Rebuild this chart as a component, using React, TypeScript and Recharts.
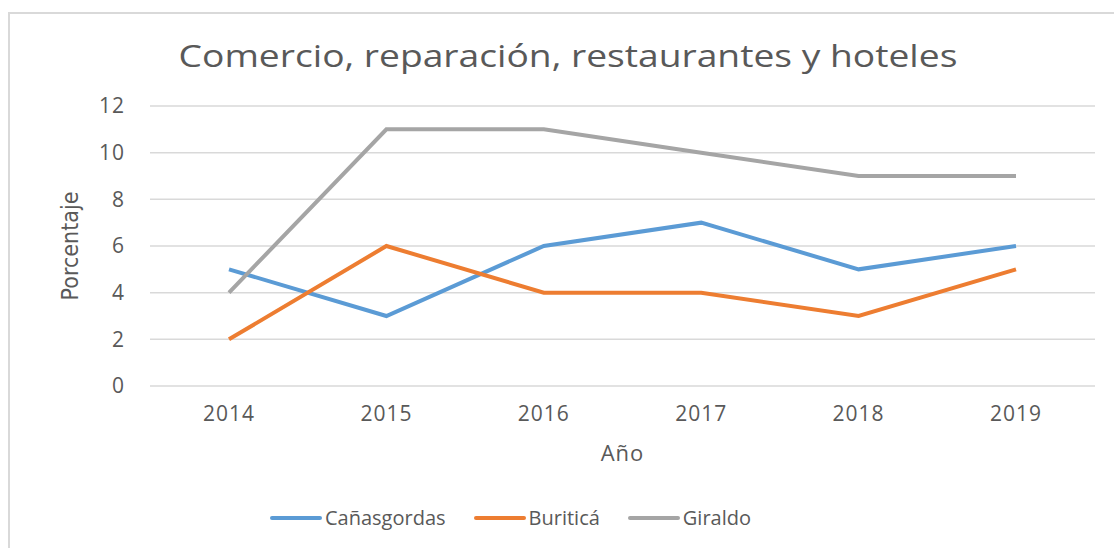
import React from 'react';
import { LineChart, Line, XAxis, YAxis, CartesianGrid, Legend } from 'recharts';

const years = ['2014', '2015', '2016', '2017', '2018', '2019'];
const canasgordas = [5, 3, 6, 7, 5, 6];
const buritica = [2, 6, 4, 4, 3, 5];
const giraldo = [4, 11, 11, 10, 9, 9];
const yTicks = [0, 2, 4, 6, 8, 10, 12];

const series = [
  { key: 'canasgordas', name: 'Cañasgordas', color: '#5b9bd5' },
  { key: 'buritica', name: 'Buriticá', color: '#ed7d31' },
  { key: 'giraldo', name: 'Giraldo', color: '#a5a5a5' },
];

const data = years.map((year, i) => ({
  year,
  canasgordas: canasgordas[i],
  buritica: buritica[i],
  giraldo: giraldo[i],
}));

const FONT = '"Open Sans", sans-serif';
const TEXT = '#595959';

const renderLegend = () => (
  <div
    style={{
      display: 'flex',
      justifyContent: 'center',
      alignItems: 'center',
      gap: 28,
      fontFamily: FONT,
      fontSize: 20,
      color: TEXT,
      paddingRight: 74,
    }}
  >
    {series.map((s) => (
      <div key={s.key} style={{ display: 'flex', alignItems: 'center' }}>
        <span
          style={{
            display: 'inline-block',
            width: 52,
            height: 4,
            borderRadius: 2,
            background: s.color,
            marginRight: 3,
          }}
        />
        <span>{s.name}</span>
      </div>
    ))}
  </div>
);

export default function App() {
  return (
    <div
      style={{
        position: 'fixed',
        left: 0,
        top: 0,
        width: 1114,
        height: 548,
        overflow: 'hidden',
        background: '#fff',
      }}
    >
      <div
        style={{
          position: 'absolute',
          left: 8,
          top: 12,
          width: 1200,
          height: 600,
          border: '2px solid #d9d9d9',
        }}
      />
      <div
        style={{
          position: 'absolute',
          left: 0,
          top: 34,
          width: 1114,
          textAlign: 'center',
          fontFamily: FONT,
          fontSize: 31,
          color: TEXT,
          transform: 'translateX(11px) scaleX(1.2)',
          transformOrigin: '557px 0',
        }}
      >
        Comercio, reparación, restaurantes y hoteles
      </div>
      <div style={{ position: 'absolute', left: 0, top: 0 }}>
        <LineChart
          width={1114}
          height={548}
          data={data}
          margin={{ top: 106, right: 19, bottom: 0, left: 0 }}
        >
          <CartesianGrid horizontal vertical={false} stroke="#d9d9d9" strokeWidth={1.5} />
          <XAxis
            dataKey="year"
            axisLine={false}
            tickLine={false}
            tickSize={0}
            tickMargin={20}
            height={135}
            padding={{ left: 79, right: 79 }}
            tick={{ fontFamily: FONT, fontSize: 21, fill: TEXT, letterSpacing: 1 }}
            label={{
              value: 'Año',
              position: 'insideTop',
              offset: 59,
              style: { fontFamily: FONT, fontSize: 22, fill: TEXT, letterSpacing: 1 },
            }}
          />
          <YAxis
            domain={[0, 12]}
            ticks={yTicks}
            axisLine={false}
            tickLine={false}
            tickSize={0}
            tickMargin={25}
            width={150}
            tick={{ fontFamily: FONT, fontSize: 21, fill: TEXT, letterSpacing: 1 }}
            label={{
              value: 'Porcentaje',
              angle: -90,
              position: 'insideLeft',
              offset: 0,
              dx: 70,
              style: {
                fontFamily: '"DejaVu Sans Condensed", "DejaVu Sans", sans-serif',
                fontSize: 23,
                fill: TEXT,
                textAnchor: 'middle',
              },
            }}
          />
          <Legend
            verticalAlign="bottom"
            content={renderLegend}
            wrapperStyle={{ bottom: 17 }}
          />
          {series.map((s) => (
            <Line
              key={s.key}
              type="linear"
              dataKey={s.key}
              name={s.name}
              stroke={s.color}
              strokeWidth={4}
              dot={false}
              activeDot={false}
              isAnimationActive={false}
            />
          ))}
        </LineChart>
      </div>
    </div>
  );
}
